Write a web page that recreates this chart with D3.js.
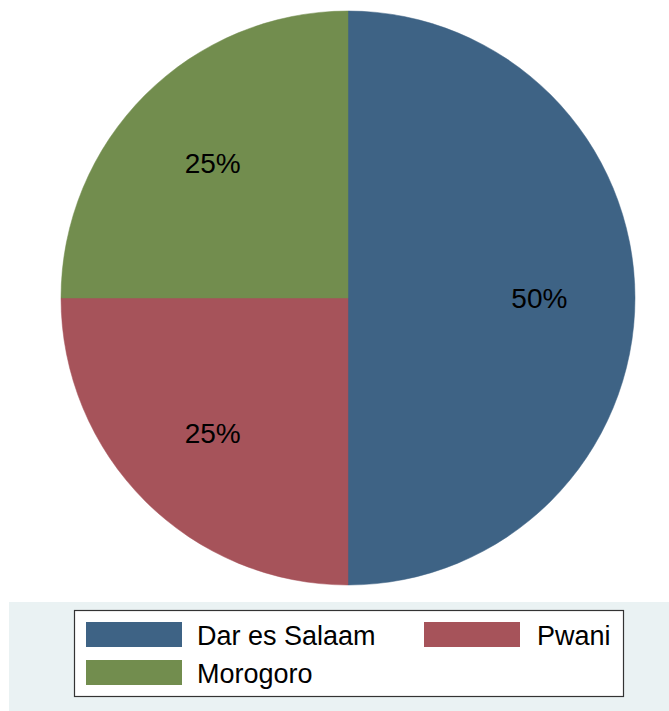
<!DOCTYPE html>
<html><head><meta charset="utf-8">
<script src="https://cdn.jsdelivr.net/npm/d3@7"></script>
<style>body{margin:0;background:#fff}svg{display:block}</style>
</head><body>
<script>
const categories = ["Dar es Salaam", "Pwani", "Morogoro"];
const values = [50, 25, 25];
const colors = ["#3e6385", "#a6535a", "#728d4e"];

const W = 669, H = 711;
const svg = d3.select("body").append("svg").attr("width", W).attr("height", H);
svg.append("rect").attr("width", W).attr("height", H).attr("fill", "#fff");

// legend region background
svg.append("rect").attr("x", 9).attr("y", 602).attr("width", W - 9).attr("height", H - 602).attr("fill", "#eaf2f3");

const cx = 348, cy = 298, r = 287;
const data = categories.map((c, i) => ({ cat: c, val: values[i], col: colors[i] }));
const pie = d3.pie().value(d => d.val).sort(null).startAngle(0).endAngle(2 * Math.PI);
const arcs = pie(data);
const arc = d3.arc().innerRadius(0).outerRadius(r);
const labelArc = d3.arc().innerRadius(r * 2 / 3).outerRadius(r * 2 / 3);
const total = d3.sum(values);

const g = svg.append("g").attr("transform", `translate(${cx},${cy})`);
g.selectAll("path").data(arcs).join("path")
  .attr("d", arc).attr("fill", d => d.data.col)
  .attr("stroke", d => d.data.col).attr("stroke-width", 0.5);
g.selectAll("text").data(arcs).join("text")
  .attr("transform", d => `translate(${labelArc.centroid(d)})`)
  .attr("text-anchor", "middle").attr("dy", "0.35em")
  .attr("font-family", "Liberation Sans, Arial, sans-serif").attr("font-size", 28)
  .attr("fill", "#000")
  .text(d => Math.round(d.data.val / total * 100) + "%");

// legend
const lg = svg.append("g");
lg.append("rect").attr("x", 74.5).attr("y", 610.5).attr("width", 549).attr("height", 86)
  .attr("fill", "#fff").attr("stroke", "#333").attr("stroke-width", 1.2);
const legendPos = [[86, 622], [424, 622], [86, 660]];
data.forEach((d, i) => {
  const [x, y] = legendPos[i];
  lg.append("rect").attr("x", x).attr("y", y).attr("width", 96).attr("height", 25).attr("fill", d.col);
  lg.append("text").attr("x", i === 1 ? 537 : 197).attr("y", y + 23)
    .attr("font-family", "Liberation Sans, Arial, sans-serif").attr("font-size", 27)
    .attr("fill", "#000").text(d.cat);
});
</script>
</body></html>
